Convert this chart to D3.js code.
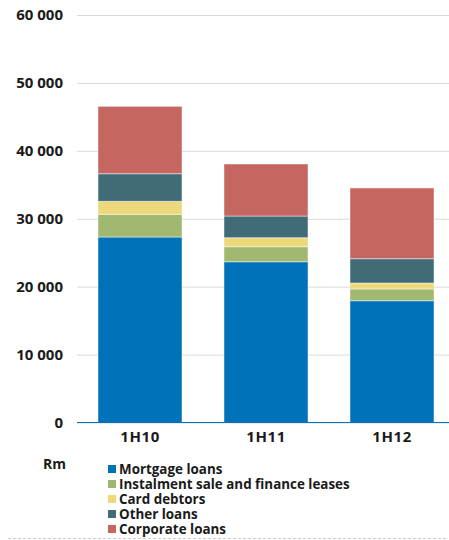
<!DOCTYPE html>
<html><head><meta charset="utf-8">
<script src="https://cdn.jsdelivr.net/npm/d3@7"></script>
<style>body{margin:0;background:#fff}svg{display:block}text{font-family:"Open Sans",sans-serif;font-weight:700;fill:#1a1a1a}</style>
</head><body><svg id="c" width="449" height="540"></svg>
<script>
const categories = ["1H10", "1H11", "1H12"];
const seriesNames = ["Mortgage loans", "Instalment sale and finance leases", "Card debtors", "Other loans", "Corporate loans"];
const mortgage = [27310, 23670, 17930];
const instalment = [3340, 2210, 1730];
const card = [1920, 1330, 880];
const other = [4060, 3190, 3580];
const corporate = [9920, 7660, 10410];
const yTicks = [0, 10000, 20000, 30000, 40000, 50000, 60000];
const colors = ["#0072b9", "#a0b870", "#edd87a", "#426b78", "#c56760"];

const seriesVals = [mortgage, instalment, card, other, corporate];
const keys = ["m", "i", "c", "o", "k"];
const rows = categories.map((cat, j) => {
  const r = {cat};
  keys.forEach((k, i) => r[k] = seriesVals[i][j]);
  return r;
});
const stacked = d3.stack().keys(keys)(rows);

const svg = d3.select("#c");
const y = d3.scaleLinear().domain([0, 60000]).range([422.5, 15]);
const x = d3.scaleBand().domain(categories).range([77, 455]).paddingInner(1/3).paddingOuter(1/6);

const yAxis = svg.append("g").attr("transform", "translate(77,0)")
  .call(d3.axisLeft(y).tickValues(yTicks).tickSize(-372).tickPadding(14).tickFormat(v => d3.format(",")(v).replace(/,/g, " ")));
yAxis.select(".domain").remove();
yAxis.selectAll("line").attr("stroke", "#d9d9d9").attr("stroke-width", 1);
yAxis.selectAll("text").attr("font-size", 15).attr("fill", "#1a1a1a").attr("font-family", "Open Sans").attr("font-weight", 700);

svg.append("g").selectAll("g").data(stacked).join("g")
  .attr("fill", (d, i) => colors[i])
  .selectAll("rect").data(d => d).join("rect")
  .attr("x", d => x(d.data.cat))
  .attr("width", x.bandwidth())
  .attr("y", d => y(d[1]))
  .attr("height", d => y(d[0]) - y(d[1]))
  .attr("stroke", "rgba(255,255,255,0.45)")
  .attr("stroke-width", 1);

svg.append("line").attr("x1", 77).attr("x2", 449).attr("y1", y(0)).attr("y2", y(0))
  .attr("stroke", "#0072b9").attr("stroke-width", 1.2);

const xAxis = svg.append("g").attr("transform", `translate(0,${y(0)})`)
  .call(d3.axisBottom(x).tickSize(0).tickPadding(9));
xAxis.select(".domain").remove();
xAxis.selectAll("text").attr("font-size", 15).attr("fill", "#1a1a1a").attr("font-family", "Open Sans").attr("font-weight", 700).attr("letter-spacing", 0.6);

svg.append("text").attr("x", 43).attr("y", 469).attr("font-size", 14).text("Rm");

const legY = i => 469 + i * 15;
svg.append("g").selectAll("rect").data(seriesNames).join("rect")
  .attr("x", 108).attr("y", (d, i) => legY(i) - 4).attr("width", 8).attr("height", 8)
  .attr("fill", (d, i) => colors[i]);
svg.append("g").selectAll("text").data(seriesNames).join("text")
  .attr("font-size", 13.4)
  .attr("x", 119).attr("y", (d, i) => legY(i) + 5).text(d => d);

svg.append("line").attr("x1", 8).attr("x2", 446).attr("y1", 538.5).attr("y2", 538.5)
  .attr("stroke", "#cfcfcf").attr("stroke-dasharray", "3,2");
</script></body></html>
